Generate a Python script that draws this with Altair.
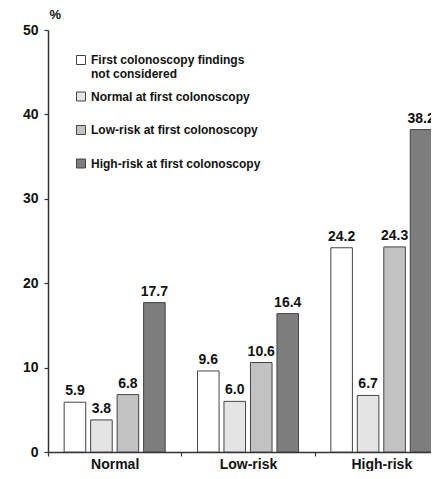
import altair as alt
import pandas as pd

categories = ["Normal", "Low-risk", "High-risk"]
series = [
    "First colonoscopy findings not considered",
    "Normal at first colonoscopy",
    "Low-risk at first colonoscopy",
    "High-risk at first colonoscopy",
]
not_considered = [5.9, 9.6, 24.2]
normal_first = [3.8, 6.0, 6.7]
lowrisk_first = [6.8, 10.6, 24.3]
highrisk_first = [17.7, 16.4, 38.2]
fills = ["#ffffff", "#e4e4e4", "#c2c2c2", "#7d7d7d"]
y_ticks = [0, 10, 20, 30, 40, 50]

rows = []
for s, vals in zip(series, [not_considered, normal_first, lowrisk_first, highrisk_first]):
    for c, v in zip(categories, vals):
        rows.append({"category": c, "series": s, "value": v, "label": f"{v:.1f}"})
df = pd.DataFrame(rows)

FONT = "Liberation Sans"

x = alt.X(
    "category:N",
    sort=categories,
    scale=alt.Scale(range=[0, 400], paddingInner=0, paddingOuter=0),
    axis=alt.Axis(
        title=None, labelAngle=0, tickBand="extent", tickSize=4,
        labelPadding=1, labelFontSize=14, labelFontWeight="bold",
    ),
)
xo = alt.XOffset(
    "series:N", sort=series,
    scale=alt.Scale(paddingInner=0.185, paddingOuter=0.61),
)
y = alt.Y(
    "value:Q",
    scale=alt.Scale(domain=[0, 50], nice=False),
    axis=alt.Axis(
        values=y_ticks, grid=False, title="%", titleAngle=0, titleAlign="left",
        titleX=1, titleY=-9, titleFontSize=13, titleFontWeight="bold",
        tickSize=4, labelPadding=6, labelFontSize=14, labelFontWeight="bold",
    ),
)

multi = "datum.label == '" + series[0] + "' ? ['First colonoscopy findings', 'not considered'] : datum.label"
# 9px square, shifted right towards its label; the lone move-to pads the entry height
symbol_path = "M0.24,1.2M-0.12,-0.36H0.6V0.36H-0.12Z"

bars = alt.Chart(df).mark_bar(stroke="#444444", strokeWidth=1, clip=True).encode(
    x=x, xOffset=xo, y=y,
    color=alt.Color(
        "series:N", sort=series,
        scale=alt.Scale(domain=series, range=fills),
        legend=alt.Legend(
            title=None, orient="none", legendX=17, legendY=17,
            symbolType=symbol_path, symbolSize=625, symbolStrokeColor="#444444",
            symbolStrokeWidth=1, symbolOpacity=1,
            labelFontSize=12, labelFontWeight="bold", labelFont=FONT,
            labelColor="#111111", labelLimit=300, rowPadding=3.5,
            labelOffset=0, labelExpr=multi,
        ),
    ),
)

labels = alt.Chart(df).mark_text(
    baseline="bottom", dy=-4, fontSize=14, fontWeight="bold",
    font=FONT, color="#111111", clip=True,
).encode(x=x, xOffset=xo, y=y, text="label:N")

chart = (
    alt.layer(bars, labels)
    .properties(
        width=383, height=422,
        autosize=alt.AutoSizeParams(type="none"),
        padding={"left": 40, "top": 22, "right": 0, "bottom": 19},
    )
    .configure_view(stroke=None)
    .configure_axis(
        domainColor="#333333", domainWidth=1.5, tickColor="#333333",
        tickWidth=1.2, labelColor="#111111", titleColor="#111111",
        labelFont=FONT, titleFont=FONT,
    )
)

chart.save("out.html", embed_options={"renderer": "svg", "actions": False})
